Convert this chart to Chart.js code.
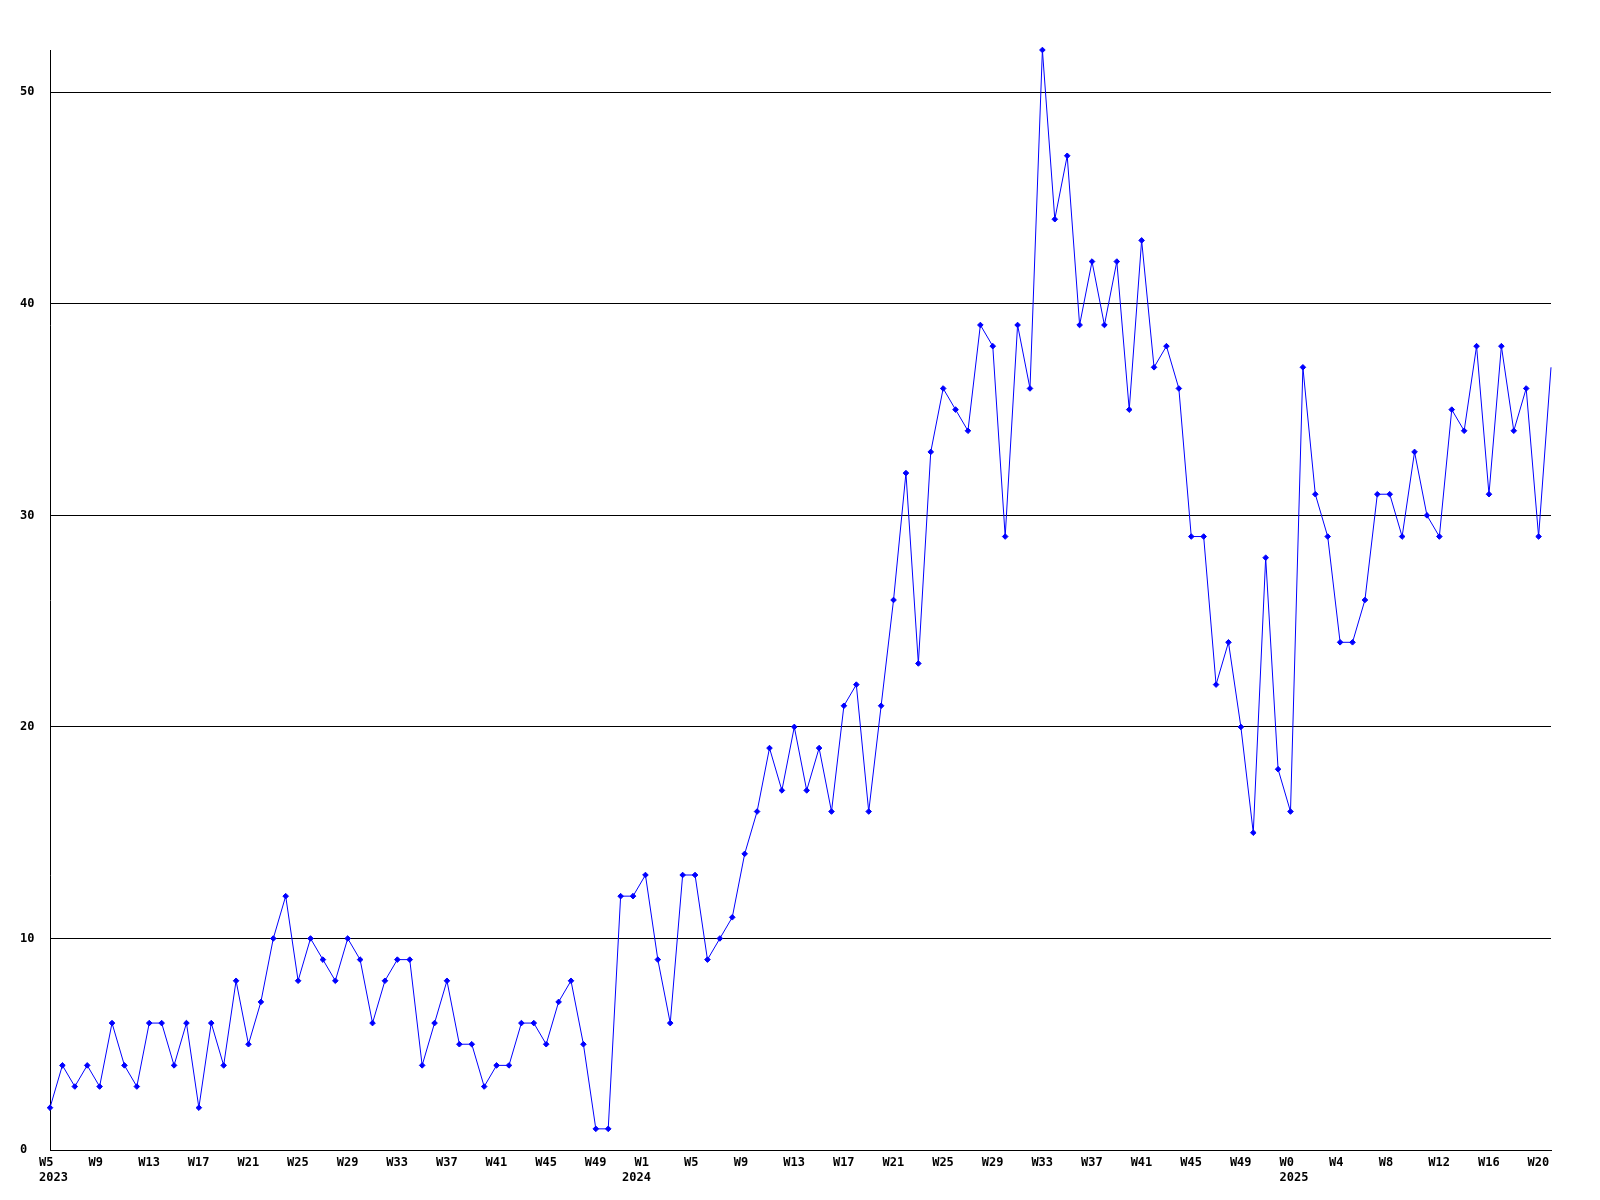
<!DOCTYPE html>
<html>
<head>
<meta charset="utf-8">
<script src="https://cdn.jsdelivr.net/npm/chart.js"></script>
<style>
  html, body { margin: 0; padding: 0; background: #fff; }
  #wrap { width: 1600px; height: 1200px; }
</style>
</head>
<body>
<div id="wrap"><canvas id="chart_weeks" width="1600" height="1200"></canvas></div>
<script>
// weekly counts, one array per year
const years = ['2023', '2024', '2025']
const firstWeek = [5, 1, 0]
// the year caption sits under this point (2024 is printed one week early)
const yearCaptionAt = [0, 47, 100]
const values_2023 = [2, 4, 3, 4, 3, 6, 4, 3, 6, 6, 4, 6, 2, 6, 4, 8, 5, 7, 10, 12, 8, 10, 9, 8, 10, 9, 6, 8, 9, 9, 4, 6, 8, 5, 5, 3, 4, 4, 6, 6, 5, 7, 8, 5, 1, 1, 12, 12]
const values_2024 = [13, 9, 6, 13, 13, 9, 10, 11, 14, 16, 19, 17, 20, 17, 19, 16, 21, 22, 16, 21, 26, 32, 23, 33, 36, 35, 34, 39, 38, 29, 39, 36, 52, 44, 47, 39, 42, 39, 42, 35, 43, 37, 38, 36, 29, 29, 22, 24, 20, 15, 28, 18]
const values_2025 = [16, 37, 31, 29, 24, 24, 26, 31, 31, 29, 33, 30, 29, 35, 34, 38, 31, 38, 34, 36, 29, 37]
const yTicks = [0, 10, 20, 30, 40, 50]
const yMax = 52
const labelEvery = 4

;(()=>{
  const series = [values_2023, values_2024, values_2025]
  const labels = []
  const data = []
  series.forEach((vals, s) => {
    vals.forEach((v, i) => {
      labels.push('W' + (firstWeek[s] + i))
      data.push(v)
    })
  })
  const yearAt = {}
  yearCaptionAt.forEach((idx, s) => { yearAt[idx] = years[s] })

  const font = { family: '"DejaVu Sans Mono", "Liberation Mono", monospace', size: 12, weight: 'bold', lineHeight: 1.28 }

  new Chart(document.getElementById('chart_weeks'), {
    type: 'line',
    data: {
      labels: labels,
      datasets: [{
        data: data,
        borderColor: '#0000ff',
        backgroundColor: '#0000ff',
        borderWidth: 1,
        tension: 0,
        fill: false,
        clip: false,
        pointStyle: 'rectRot',
        // last mark sits on the right edge and is not drawn in the original
        pointRadius: ctx => ctx.dataIndex === data.length - 1 ? 0 : 2.8,
        pointBorderWidth: 1,
        pointBorderColor: '#0000ff',
        pointBackgroundColor: '#0000ff'
      }]
    },
    options: {
      responsive: false,
      animation: false,
      devicePixelRatio: 1,
      layout: { padding: { left: 20, right: 49, top: 50, bottom: 0 } },
      plugins: { legend: { display: false }, tooltip: { enabled: false }, title: { display: false } },
      scales: {
        x: {
          type: 'category',
          offset: false,
          grid: { display: false, drawTicks: false },
          border: { display: true, color: '#000', width: 1 },
          afterFit: scale => { scale.height = 50 },
          ticks: {
            autoSkip: false,
            maxRotation: 0,
            minRotation: 0,
            align: 'start',
            labelOffset: -11,
            padding: 5,
            color: '#000',
            font: font,
            callback: (val, i) => {
              const week = i % labelEvery === 0 ? labels[i] : ''
              if (yearAt[i]) return [week, yearAt[i]]
              return week
            }
          }
        },
        y: {
          min: 0,
          max: yMax,
          grid: { color: '#000', lineWidth: 1, drawTicks: false },
          border: { display: true, color: '#000', width: 1 },
          afterFit: scale => { scale.width = 30 },
          afterBuildTicks: scale => { scale.ticks = yTicks.map(v => ({ value: v })) },
          ticks: {
            crossAlign: 'far',
            padding: 0,
            color: '#000',
            font: font
          }
        }
      }
    }
  })
})()
</script>
</body>
</html>
